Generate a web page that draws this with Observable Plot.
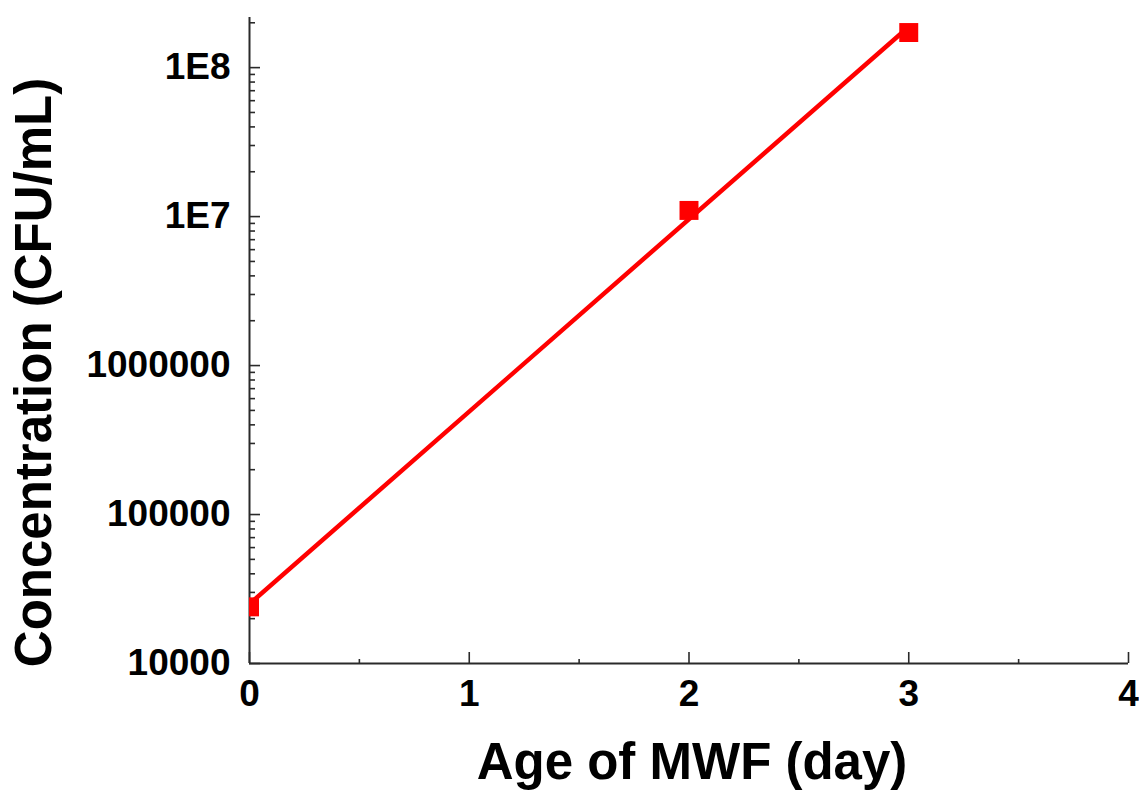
<!DOCTYPE html>
<html><head><meta charset="utf-8">
<script src="https://cdn.jsdelivr.net/npm/d3@7"></script>
<script src="https://cdn.jsdelivr.net/npm/@observablehq/plot@0.6"></script>
<style>body{margin:0;background:#fff}</style>
</head><body><div id="chart"></div>
<script>
// Data
const days = [0, 2, 3];
const concentrations = [2.4e4, 1.1e7, 1.72e8];
// Axis ticks and labels
const xMajorTicks = [0, 1, 2, 3, 4];
const xMinorTicks = [0.5, 1.5, 2.5, 3.5];
const yMajorTicks = [1e4, 1e5, 1e6, 1e7, 1e8];
const yTickLabels = ["10000", "100000", "1000000", "1E7", "1E8"];
const xLabel = "Age of MWF (day)";
const yLabel = "Concentration (CFU/mL)";

const yDomain = [1e4, 2.17e8];
const yMinorTicks = [];
for (const dec of yMajorTicks) for (let k = 2; k <= 9; k++) { const v = k * dec; if (v <= yDomain[1]) yMinorTicks.push(v); }

const points = days.map((d, i) => ({day: d, conc: concentrations[i]}));

// log-linear least squares fit through the measured points
const lx = days, ly = concentrations.map(Math.log10);
const mx = d3.mean(lx), my = d3.mean(ly);
const slope = d3.sum(lx, (x, i) => (x - mx) * (ly[i] - my)) / d3.sum(lx, x => (x - mx) ** 2);
const icpt = my - slope * mx;
const fit = [d3.min(days), d3.max(days)].map(x => ({day: x, conc: 10 ** (icpt + slope * x)}));

const labelFor = new Map(yMajorTicks.map((v, i) => [v, yTickLabels[i]]));
const axisColor = "#2a2a2a";

const chart = Plot.plot({
  width: 1139,
  height: 794,
  marginLeft: 249,
  marginRight: 11,
  marginTop: 17,
  marginBottom: 131,
  style: {fontFamily: "'Liberation Sans', Arial, sans-serif", fontWeight: "bold", background: "#fff", color: "#000"},
  x: {domain: [0, 4], axis: null},
  y: {type: "log", domain: yDomain, axis: null},
  marks: [
    // axis lines
    Plot.ruleX([0], {stroke: axisColor, strokeWidth: 2}),
    Plot.ruleY([yDomain[0]], {stroke: axisColor, strokeWidth: 2}),
    // y ticks (inward)
    Plot.axisY({ticks: yMajorTicks, tickSize: -11, text: null, label: null, stroke: axisColor, strokeWidth: 1.6}),
    Plot.axisY({ticks: yMinorTicks, tickSize: -6, text: null, label: null, stroke: axisColor, strokeWidth: 1.6}),
    Plot.axisY({ticks: yMajorTicks, tickSize: 0, tickPadding: 19, tickFormat: v => labelFor.get(v), label: null, fontSize: 37, fontWeight: "bold", fill: "#000"}),
    // x ticks (inward)
    Plot.axisX({ticks: xMajorTicks, tickSize: -11, text: null, label: null, stroke: axisColor, strokeWidth: 1.6}),
    Plot.axisX({ticks: xMinorTicks, tickSize: -4, text: null, label: null, stroke: axisColor, strokeWidth: 1.6}),
    Plot.axisX({ticks: xMajorTicks, tickSize: 0, tickPadding: 16, tickFormat: d => String(d), label: null, fontSize: 37, fontWeight: "bold", fill: "#000"}),
    // axis titles
    Plot.text([yLabel], {frameAnchor: "left", textAnchor: "middle", text: d => d, rotate: -90, dx: -215, dy: 32, fontSize: 51, fontWeight: "bold", fill: "#000"}),
    Plot.text([xLabel], {frameAnchor: "bottom", textAnchor: "middle", text: d => d, dx: 3, dy: 115, fontSize: 51, fontWeight: "bold", fill: "#000"}),
    // fit line and markers
    Plot.line(fit, {x: "day", y: "conc", stroke: "#ff0000", strokeWidth: 4.5, clip: true}),
    Plot.dot(points, {x: "day", y: "conc", symbol: "square", r: 10.7, fill: "#ff0000", stroke: null, clip: true})
  ]
});
document.getElementById("chart").append(chart);
</script>
</body></html>
